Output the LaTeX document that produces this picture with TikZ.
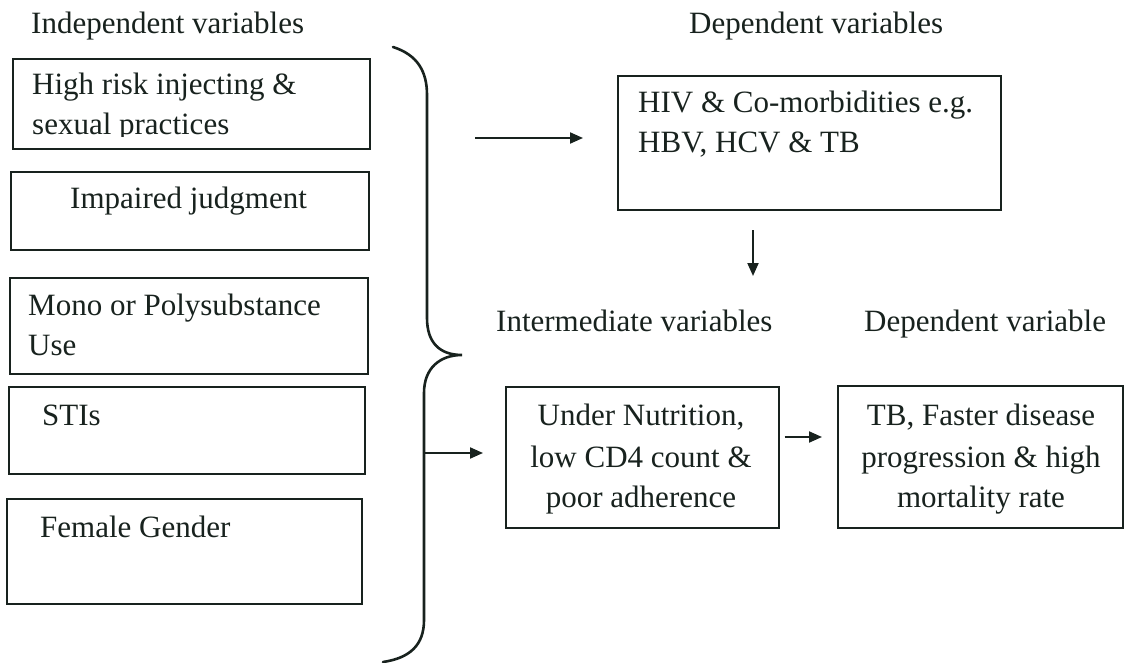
\documentclass[tikz,border=0pt]{standalone}
\usepackage{fontspec}
\setmainfont{Liberation Serif}
\usetikzlibrary{arrows.meta}
\definecolor{ink}{RGB}{24,34,30}
\begin{document}
\begin{tikzpicture}[x=1pt,y=-1pt,
  every node/.style={text=ink},
  box/.style={draw=ink, line width=1.6pt, inner sep=0pt, anchor=north west},
  txt/.style={inner sep=0pt, anchor=base west, font=\fontsize{31}{41}\selectfont},
  ctxt/.style={inner sep=0pt, anchor=base, font=\fontsize{31}{41}\selectfont},
  arr/.style={draw=ink, line width=2pt, -{Triangle[length=13pt,width=11pt]}},
  brace/.style={draw=ink, line width=2.6pt, line cap=round},
]
\useasboundingbox[fill=white] (0,0) rectangle (1124,663);

% titles
\node[txt] (tIndep) at (31,34) {Independent variables};
\node[txt] (tDep) at (689,34) {Dependent variables};
\node[txt] (tInter) at (496,331) {Intermediate variables};
\node[txt] (tDep2) at (864,331) {Dependent variable};

% left boxes
\node[box, minimum width=357pt, minimum height=90pt] (b1) at (12,58) {};
\node[box, minimum width=358pt, minimum height=78pt] (b2) at (10,171) {};
\node[box, minimum width=358pt, minimum height=96pt] (b3) at (9,277) {};
\node[box, minimum width=356pt, minimum height=87pt] (b4) at (8,386) {};
\node[box, minimum width=355pt, minimum height=105pt] (b5) at (6,498) {};

\node[txt] (t1a) at (32,95) {High risk injecting \&};
\begin{scope}
\clip (12,100) rectangle (369,137);
\node[txt] (t1b) at (32,135) {sexual practices};
\end{scope}
\node[txt] (t2) at (70,209) {Impaired judgment};
\node[txt] (t3a) at (28,315) {Mono or Polysubstance};
\node[txt] (t3b) at (28,355) {Use};
\node[txt] (t4) at (42,425) {STIs};
\node[txt] (t5) at (40,537) {Female Gender};

% brace
\draw[brace] (393,47) .. controls (418,55) and (427,72) .. (427,95)
  -- (427,318) .. controls (427,343) and (440,355) .. (462,355)
  .. controls (440,355) and (424,368) .. (424,393)
  -- (424,620) .. controls (424,645) and (410,658) .. (383,662);
\coordinate (bs) at (424,453);

% right boxes
\node[box, minimum width=383pt, minimum height=134pt] (hiv) at (617,75) {};
\node[txt] (h1) at (638,113) {HIV \& Co-morbidities e.g.};
\node[txt] (h2) at (638,153) {HBV, HCV \& TB};

\node[box, minimum width=273pt, minimum height=141pt] (inter) at (505,386) {};
\node[ctxt] (i1) at (641,425) {Under Nutrition,};
\node[ctxt] (i2) at (641,467) {low CD4 count \&};
\node[ctxt] (i3) at (641,507) {poor adherence};

\node[box, minimum width=285pt, minimum height=142pt] (tb) at (837,385) {};
\node[ctxt] (o1) at (981,425) {TB, Faster disease};
\node[ctxt] (o2) at (981,467) {progression \& high};
\node[ctxt] (o3) at (981,507) {mortality rate};

% arrows
\coordinate (a1) at (475,138);
\draw[arr, shorten >=34pt] (a1) -- (hiv.west |- a1);
\coordinate (d1) at (753,230);
\coordinate (d2) at (753,276);
\draw[arr] (d1) -- (d2);
\draw[arr, shorten >=22pt] (bs) -- (inter.west |- bs);
\coordinate (m) at (800,437);
\draw[arr, shorten <=5pt, shorten >=15pt] (inter.east |- m) -- (tb.west |- m);
\end{tikzpicture}
\end{document}
